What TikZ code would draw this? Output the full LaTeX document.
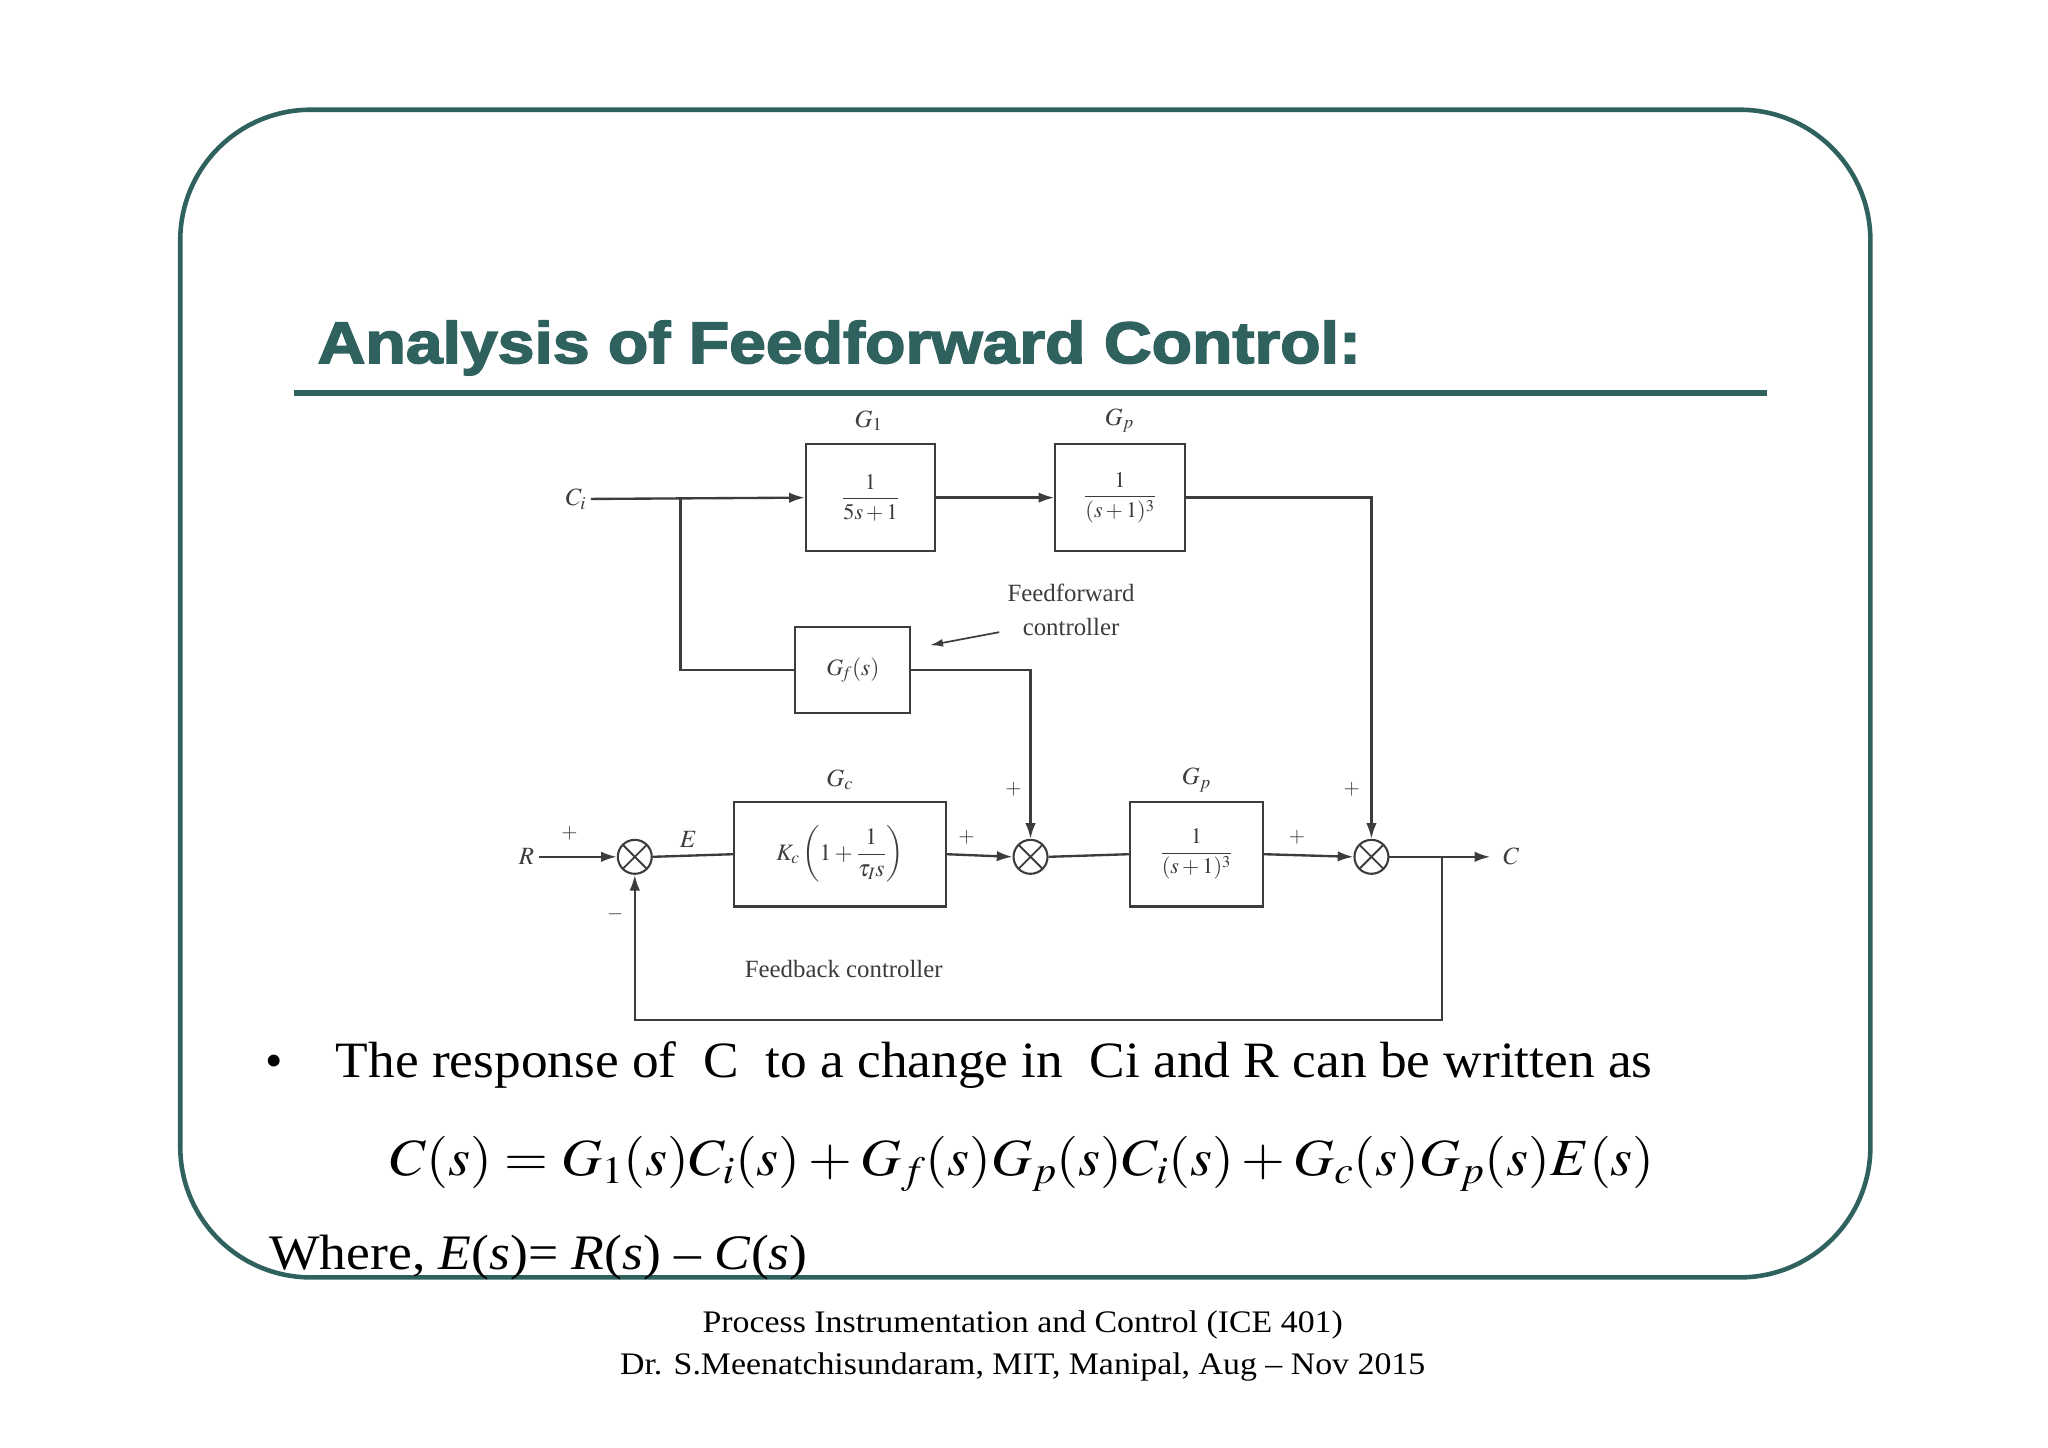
\documentclass[tikz,border=0pt]{standalone}
\usepackage{amsmath}
\usepackage{mathptmx}
\usepackage{graphicx}
\usepackage{fontspec}
\setmainfont{Liberation Serif}
\newfontfamily\titlefont[FakeBold=2.5]{Liberation Sans Bold}
\usetikzlibrary{arrows.meta}
\definecolor{teal1}{RGB}{47,98,94}
\definecolor{dg}{RGB}{60,60,60}
\begin{document}
\begin{tikzpicture}[x=1pt,y=-1pt,
  blk/.style={draw=dg,line width=1.6pt,minimum width=#1,inner sep=0pt},
  sumn/.style={draw=dg,line width=1.6pt,circle,minimum size=26pt,inner sep=0pt,path picture={\draw[dg,line width=1.4pt] (path picture bounding box.north west)--(path picture bounding box.south east) (path picture bounding box.north east)--(path picture bounding box.south west);}},
  ln/.style={dg,line width=1.8pt},
  ar/.style={ln,-{Latex[length=12pt,width=8pt]}},
  lab/.style={text=dg,font=\fontsize{19}{21}\selectfont},
  sg/.style={text=dg,font=\fontsize{16}{18}\selectfont}]
\useasboundingbox (0,0) rectangle (1568,1108);
\fill[white] (0,0) rectangle (1568,1108);
\draw[teal1,line width=3.5pt,rounded corners=100pt] (138,84) rectangle (1432,978);
\node[anchor=base west,inner sep=0pt,text=teal1,font=\titlefont\fontsize{45}{50}\selectfont] (title) at (243,278) {\scalebox{1.125}[1]{Analysis of Feedforward Control:}};
\draw[teal1,line width=5pt] (225,301) -- (1353,301);
% blocks
\node[blk=99pt,minimum height=82pt] (g1) at (666.5,381) {\fontsize{17}{18}\selectfont\color{dg}$\dfrac{1}{5s+1}$};
\node[blk=99pt,minimum height=82pt] (gp1) at (857.5,381) {\fontsize{17}{18}\selectfont\color{dg}$\dfrac{1}{(s+1)^3}$};
\node[blk=88pt,minimum height=66pt] (gf) at (653,513) {\fontsize{18}{20}\selectfont\color{dg}$G_{\!f}(s)$};
\node[blk=162pt,minimum height=80pt] (gc) at (643,654) {\fontsize{18}{20}\selectfont\color{dg}$K_c\left(1+\dfrac{1}{\tau_I s}\right)$};
\node[blk=102pt,minimum height=80pt] (gp2) at (916,654) {\fontsize{17}{18}\selectfont\color{dg}$\dfrac{1}{(s+1)^3}$};
\node[sumn] (s1) at (486,656) {};
\node[sumn] (s2) at (789,656) {};
\node[sumn] (s3) at (1050,656) {};
% labels
\node[lab] at (665,322) {$G_1$};
\node[lab] at (857,322) {$G_p$};
\node[lab] at (643,597) {$G_c$};
\node[lab] at (916,597) {$G_p$};
\node[lab] (ci) at (441,382) {$C_i$};
\node[lab] (r) at (403,656) {$R$};
\node[lab] (c) at (1157,656) {$C$};
\node[lab] at (527,643) {$E$};
\node[lab,align=center,font=\fontsize{19}{26}\selectfont] (ffl) at (820,467) {Feedforward\\controller};
\node[lab] at (646,742) {Feedback controller};
\node[sg] at (436,638) {$+$};
\node[sg] at (471,700) {$-$};
\node[sg] at (740,641) {$+$};
\node[sg] at (776,604) {$+$};
\node[sg] at (993,641) {$+$};
\node[sg] at (1035,604) {$+$};
% connectors
\coordinate (br) at (521,381);
\coordinate (fb) at (1104,656);
\coordinate (cend) at (1141,656);
\draw[ar] (ci.east) -- (g1.west);
\draw[ar] (g1.east) -- (gp1.west);
\draw[ln] (br) |- (gf.west);
\draw[ar] (gf.east) -| (s2.north);
\draw[ar] (gp1.east) -| (s3.north);
\draw[ar] (r.east) -- (s1.west);
\draw[ln] (s1.east) -- (gc.west);
\draw[ar] (gc.east) -- (s2.west);
\draw[ln] (s2.east) -- (gp2.west);
\draw[ar] (gp2.east) -- (s3.west);
\draw[ar] (s3.east) -- (cend);
\draw[ar] (fb) |- (800,781) -| (s1.south);
\draw[dg,line width=1.3pt,-{Latex[length=10pt,width=6pt]}] (765,484) -- (712,494);
% text
\node[anchor=base west,inner sep=0pt,font=\fontsize{38}{40}\selectfont] (b) at (203,825) {\textbullet};
\node[anchor=base west,inner sep=0pt,font=\fontsize{39}{42}\selectfont] (t1) at (257,825) {\scalebox{1.047}[1]{The response of\ \ C\ \ to a change in\ \ Ci and R can be written as}};
\node[anchor=base,inner sep=0pt,font=\fontsize{40}{44}\selectfont] (eq) at (783,900) {\scalebox{1.08}[1]{$C(s)=G_1(s)C_i(s)+G_f(s)G_p(s)C_i(s)+G_c(s)G_p(s)E(s)$}};
\node[anchor=base west,inner sep=0pt,font=\fontsize{38}{42}\selectfont] (wh) at (206,972) {\scalebox{1.08}[1]{Where, \textit{E}(\textit{s})= \textit{R}(\textit{s}) -- \textit{C}(\textit{s})}};
\node[anchor=base,inner sep=0pt,font=\fontsize{24}{26}\selectfont] (f1) at (783,1020) {\scalebox{1.08}[1]{Process Instrumentation and Control (ICE 401)}};
\node[anchor=base,inner sep=0pt,font=\fontsize{24}{26}\selectfont] (f2) at (783,1052) {\scalebox{1.08}[1]{Dr. S.Meenatchisundaram, MIT, Manipal, Aug -- Nov 2015}};
\end{tikzpicture}
\end{document}
